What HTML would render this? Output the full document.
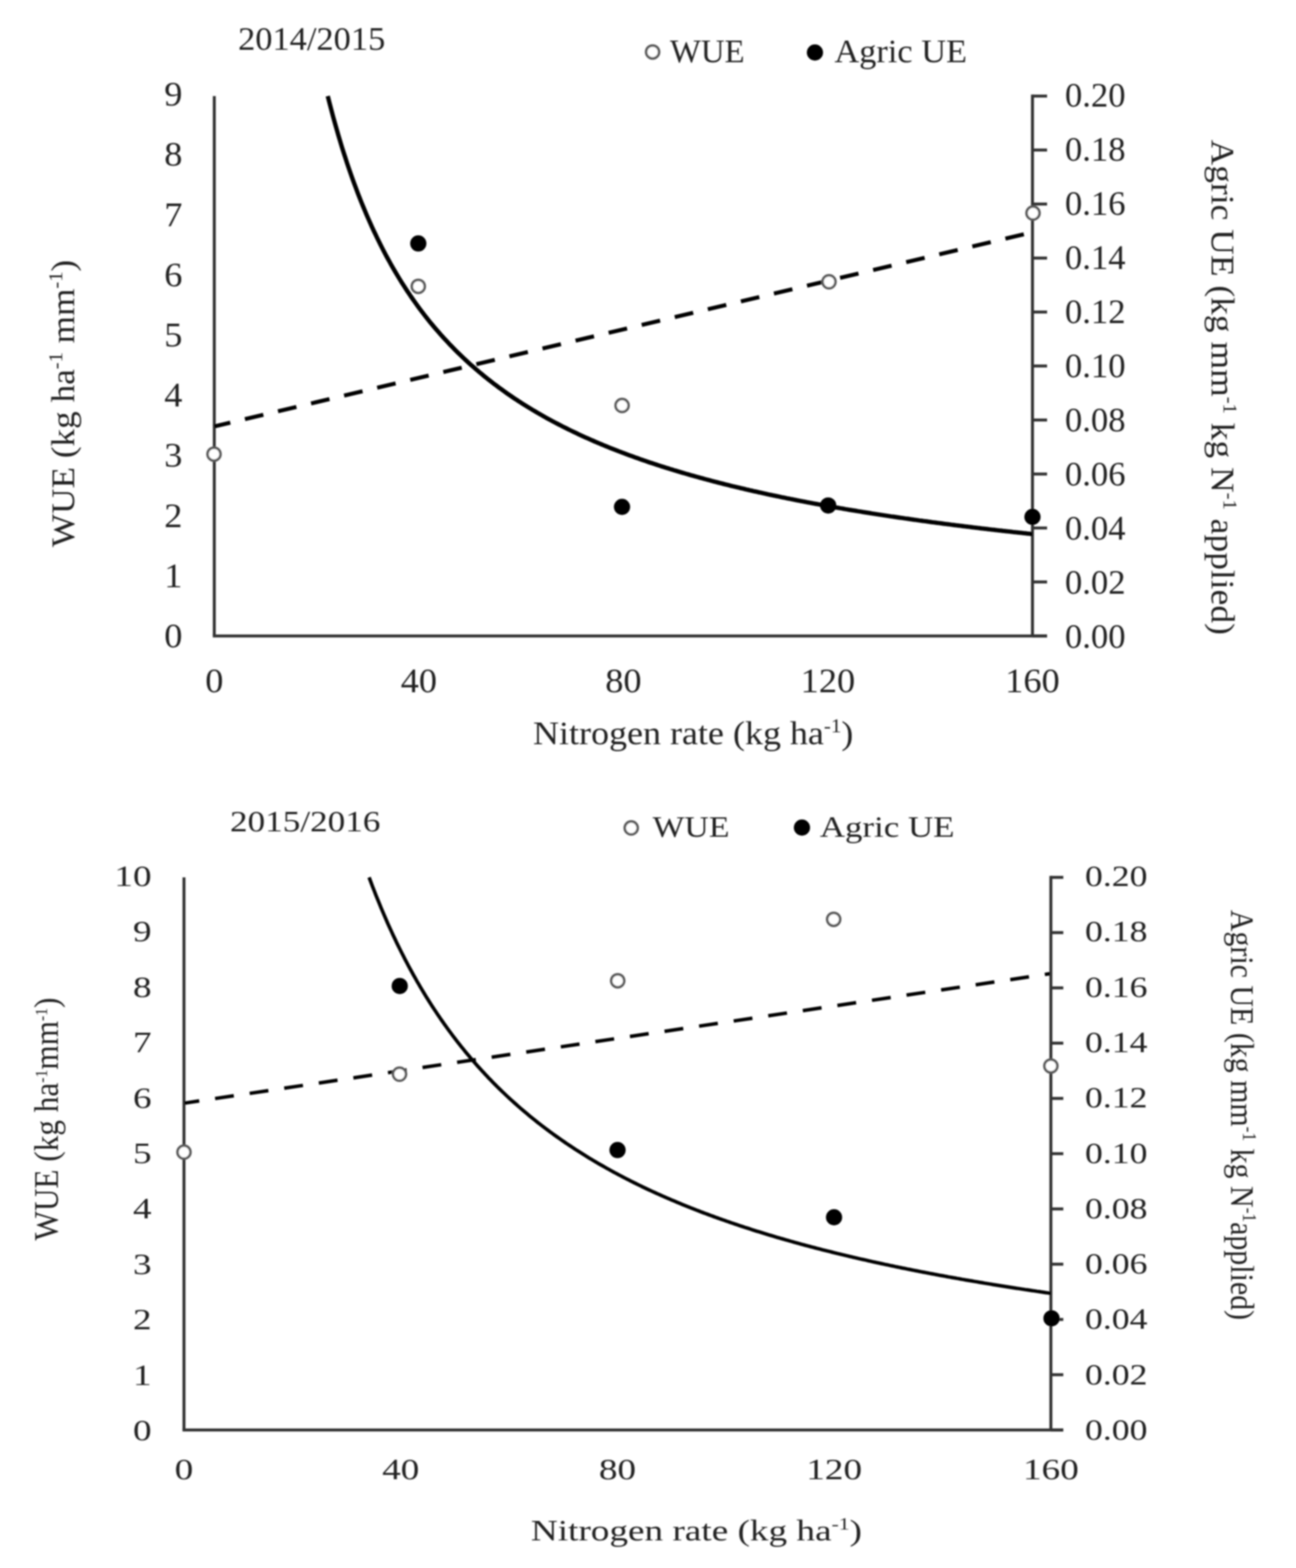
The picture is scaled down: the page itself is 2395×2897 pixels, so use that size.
<!DOCTYPE html>
<html><head><meta charset="utf-8"><title>WUE and Agric UE vs Nitrogen rate</title>
<style>
html,body{margin:0;padding:0;background:#fff;}
svg{display:block;}
text{font-family:'Liberation Serif', 'DejaVu Serif', serif;fill:#222;}
</style></head><body>
<svg width="2395" height="2897" viewBox="0 0 2395 2897">
<defs><filter id="soft" x="0" y="0" width="100%" height="100%" filterUnits="userSpaceOnUse"><feGaussianBlur stdDeviation="1.5"/></filter></defs>
<rect width="2395" height="2897" fill="#fff"/>
<g filter="url(#soft)">
<line x1="396" y1="177.5" x2="396" y2="1175" stroke="#333" stroke-width="5.5"/>
<line x1="393.25" y1="1175" x2="1935" y2="1175" stroke="#333" stroke-width="5.5"/>
<line x1="1908" y1="174.75" x2="1908" y2="1175" stroke="#333" stroke-width="5.5"/>
<line x1="1908" y1="1175.0" x2="1935" y2="1175.0" stroke="#333" stroke-width="5.5"/>
<line x1="1908" y1="1075.2" x2="1935" y2="1075.2" stroke="#333" stroke-width="5.5"/>
<line x1="1908" y1="975.5" x2="1935" y2="975.5" stroke="#333" stroke-width="5.5"/>
<line x1="1908" y1="875.8" x2="1935" y2="875.8" stroke="#333" stroke-width="5.5"/>
<line x1="1908" y1="776.0" x2="1935" y2="776.0" stroke="#333" stroke-width="5.5"/>
<line x1="1908" y1="676.2" x2="1935" y2="676.2" stroke="#333" stroke-width="5.5"/>
<line x1="1908" y1="576.5" x2="1935" y2="576.5" stroke="#333" stroke-width="5.5"/>
<line x1="1908" y1="476.8" x2="1935" y2="476.8" stroke="#333" stroke-width="5.5"/>
<line x1="1908" y1="377.0" x2="1935" y2="377.0" stroke="#333" stroke-width="5.5"/>
<line x1="1908" y1="277.2" x2="1935" y2="277.2" stroke="#333" stroke-width="5.5"/>
<line x1="1908" y1="177.5" x2="1935" y2="177.5" stroke="#333" stroke-width="5.5"/>
<text transform="translate(337,1196.0) scale(1.05,1)" text-anchor="end" font-size="64">0</text>
<text transform="translate(337,1084.8) scale(1.05,1)" text-anchor="end" font-size="64">1</text>
<text transform="translate(337,973.6) scale(1.05,1)" text-anchor="end" font-size="64">2</text>
<text transform="translate(337,862.4) scale(1.05,1)" text-anchor="end" font-size="64">3</text>
<text transform="translate(337,751.2) scale(1.05,1)" text-anchor="end" font-size="64">4</text>
<text transform="translate(337,640.0) scale(1.05,1)" text-anchor="end" font-size="64">5</text>
<text transform="translate(337,528.8) scale(1.05,1)" text-anchor="end" font-size="64">6</text>
<text transform="translate(337,417.6) scale(1.05,1)" text-anchor="end" font-size="64">7</text>
<text transform="translate(337,306.4) scale(1.05,1)" text-anchor="end" font-size="64">8</text>
<text transform="translate(337,195.2) scale(1.05,1)" text-anchor="end" font-size="64">9</text>
<text transform="translate(1968,1196.5) scale(1.0,1)" font-size="64">0.00</text>
<text transform="translate(1968,1096.5) scale(1.0,1)" font-size="64">0.02</text>
<text transform="translate(1968,996.5) scale(1.0,1)" font-size="64">0.04</text>
<text transform="translate(1968,896.5) scale(1.0,1)" font-size="64">0.06</text>
<text transform="translate(1968,796.5) scale(1.0,1)" font-size="64">0.08</text>
<text transform="translate(1968,696.5) scale(1.0,1)" font-size="64">0.10</text>
<text transform="translate(1968,596.5) scale(1.0,1)" font-size="64">0.12</text>
<text transform="translate(1968,496.5) scale(1.0,1)" font-size="64">0.14</text>
<text transform="translate(1968,396.5) scale(1.0,1)" font-size="64">0.16</text>
<text transform="translate(1968,296.5) scale(1.0,1)" font-size="64">0.18</text>
<text transform="translate(1968,196.5) scale(1.0,1)" font-size="64">0.20</text>
<text transform="translate(396.0,1279) scale(1.05,1)" text-anchor="middle" font-size="64">0</text>
<text transform="translate(774.0,1279) scale(1.05,1)" text-anchor="middle" font-size="64">40</text>
<text transform="translate(1152.0,1279) scale(1.05,1)" text-anchor="middle" font-size="64">80</text>
<text transform="translate(1530.0,1279) scale(1.05,1)" text-anchor="middle" font-size="64">120</text>
<text transform="translate(1908.0,1279) scale(1.05,1)" text-anchor="middle" font-size="64">160</text>
<line x1="396" y1="787.9" x2="1908" y2="429.0" stroke="#000" stroke-width="7.5" stroke-dasharray="35 27.8" stroke-dashoffset="4.6"/>
<path d="M605.7,177.5 L609.0,190.4 L612.3,203.0 L615.5,215.2 L618.8,227.1 L622.1,238.6 L625.3,249.9 L628.6,260.9 L631.8,271.6 L635.1,282.0 L638.4,292.1 L641.6,302.1 L644.9,311.7 L648.2,321.2 L651.4,330.4 L654.7,339.4 L658.0,348.2 L661.2,356.8 L664.5,365.2 L667.7,373.4 L671.0,381.4 L674.3,389.3 L677.5,397.0 L680.8,404.5 L684.1,411.9 L687.3,419.1 L690.6,426.2 L693.9,433.1 L697.1,439.9 L700.4,446.6 L703.6,453.1 L706.9,459.5 L710.2,465.8 L713.4,472.0 L716.7,478.0 L720.0,483.9 L723.2,489.8 L726.5,495.5 L729.8,501.1 L733.0,506.6 L736.3,512.0 L739.5,517.3 L742.8,522.6 L746.1,527.7 L749.3,532.7 L752.6,537.7 L755.9,542.6 L759.1,547.4 L762.4,552.1 L765.7,556.8 L768.9,561.3 L772.2,565.8 L775.5,570.3 L778.7,574.6 L782.0,578.9 L785.2,583.1 L788.5,587.3 L791.8,591.4 L795.0,595.4 L798.3,599.4 L801.6,603.3 L804.8,607.1 L808.1,610.9 L811.4,614.7 L814.6,618.4 L817.9,622.0 L821.1,625.6 L824.4,629.1 L827.7,632.6 L830.9,636.1 L834.2,639.4 L837.5,642.8 L840.7,646.1 L844.0,649.3 L847.3,652.6 L850.5,655.7 L853.8,658.9 L857.0,661.9 L860.3,665.0 L863.6,668.0 L866.8,671.0 L870.1,673.9 L873.4,676.8 L876.6,679.6 L879.9,682.5 L883.2,685.2 L886.4,688.0 L889.7,690.7 L892.9,693.4 L896.2,696.1 L899.5,698.7 L902.7,701.3 L906.0,703.8 L909.3,706.4 L912.5,708.9 L915.8,711.3 L919.1,713.8 L922.3,716.2 L925.6,718.6 L928.9,720.9 L932.1,723.3 L935.4,725.6 L938.6,727.9 L941.9,730.1 L945.2,732.4 L948.4,734.6 L951.7,736.8 L955.0,738.9 L958.2,741.1 L961.5,743.2 L964.8,745.3 L968.0,747.3 L971.3,749.4 L974.5,751.4 L977.8,753.4 L981.1,755.4 L984.3,757.4 L987.6,759.3 L990.9,761.2 L994.1,763.1 L997.4,765.0 L1000.7,766.9 L1003.9,768.7 L1007.2,770.6 L1010.4,772.4 L1013.7,774.2 L1017.0,776.0 L1020.2,777.7 L1023.5,779.5 L1026.8,781.2 L1030.0,782.9 L1033.3,784.6 L1036.6,786.3 L1039.8,788.0 L1043.1,789.6 L1046.3,791.2 L1049.6,792.9 L1052.9,794.5 L1056.1,796.0 L1059.4,797.6 L1062.7,799.2 L1065.9,800.7 L1069.2,802.3 L1072.5,803.8 L1075.7,805.3 L1079.0,806.8 L1082.3,808.3 L1085.5,809.7 L1088.8,811.2 L1092.0,812.6 L1095.3,814.0 L1098.6,815.5 L1101.8,816.9 L1105.1,818.3 L1108.4,819.6 L1111.6,821.0 L1114.9,822.4 L1118.2,823.7 L1121.4,825.0 L1124.7,826.4 L1127.9,827.7 L1131.2,829.0 L1134.5,830.3 L1137.7,831.5 L1141.0,832.8 L1144.3,834.1 L1147.5,835.3 L1150.8,836.6 L1154.1,837.8 L1157.3,839.0 L1160.6,840.2 L1163.8,841.4 L1167.1,842.6 L1170.4,843.8 L1173.6,845.0 L1176.9,846.1 L1180.2,847.3 L1183.4,848.5 L1186.7,849.6 L1190.0,850.7 L1193.2,851.8 L1196.5,853.0 L1199.7,854.1 L1203.0,855.2 L1206.3,856.2 L1209.5,857.3 L1212.8,858.4 L1216.1,859.5 L1219.3,860.5 L1222.6,861.6 L1225.9,862.6 L1229.1,863.6 L1232.4,864.7 L1235.7,865.7 L1238.9,866.7 L1242.2,867.7 L1245.4,868.7 L1248.7,869.7 L1252.0,870.7 L1255.2,871.6 L1258.5,872.6 L1261.8,873.6 L1265.0,874.5 L1268.3,875.5 L1271.6,876.4 L1274.8,877.4 L1278.1,878.3 L1281.3,879.2 L1284.6,880.1 L1287.9,881.0 L1291.1,881.9 L1294.4,882.8 L1297.7,883.7 L1300.9,884.6 L1304.2,885.5 L1307.5,886.4 L1310.7,887.2 L1314.0,888.1 L1317.2,889.0 L1320.5,889.8 L1323.8,890.7 L1327.0,891.5 L1330.3,892.3 L1333.6,893.2 L1336.8,894.0 L1340.1,894.8 L1343.4,895.6 L1346.6,896.4 L1349.9,897.3 L1353.1,898.1 L1356.4,898.8 L1359.7,899.6 L1362.9,900.4 L1366.2,901.2 L1369.5,902.0 L1372.7,902.7 L1376.0,903.5 L1379.3,904.3 L1382.5,905.0 L1385.8,905.8 L1389.1,906.5 L1392.3,907.3 L1395.6,908.0 L1398.8,908.7 L1402.1,909.5 L1405.4,910.2 L1408.6,910.9 L1411.9,911.6 L1415.2,912.3 L1418.4,913.1 L1421.7,913.8 L1425.0,914.5 L1428.2,915.2 L1431.5,915.8 L1434.7,916.5 L1438.0,917.2 L1441.3,917.9 L1444.5,918.6 L1447.8,919.2 L1451.1,919.9 L1454.3,920.6 L1457.6,921.2 L1460.9,921.9 L1464.1,922.5 L1467.4,923.2 L1470.6,923.8 L1473.9,924.5 L1477.2,925.1 L1480.4,925.8 L1483.7,926.4 L1487.0,927.0 L1490.2,927.6 L1493.5,928.3 L1496.8,928.9 L1500.0,929.5 L1503.3,930.1 L1506.5,930.7 L1509.8,931.3 L1513.1,931.9 L1516.3,932.5 L1519.6,933.1 L1522.9,933.7 L1526.1,934.3 L1529.4,934.9 L1532.7,935.5 L1535.9,936.0 L1539.2,936.6 L1542.5,937.2 L1545.7,937.8 L1549.0,938.3 L1552.2,938.9 L1555.5,939.4 L1558.8,940.0 L1562.0,940.6 L1565.3,941.1 L1568.6,941.7 L1571.8,942.2 L1575.1,942.8 L1578.4,943.3 L1581.6,943.8 L1584.9,944.4 L1588.1,944.9 L1591.4,945.4 L1594.7,946.0 L1597.9,946.5 L1601.2,947.0 L1604.5,947.5 L1607.7,948.0 L1611.0,948.6 L1614.3,949.1 L1617.5,949.6 L1620.8,950.1 L1624.0,950.6 L1627.3,951.1 L1630.6,951.6 L1633.8,952.1 L1637.1,952.6 L1640.4,953.1 L1643.6,953.6 L1646.9,954.1 L1650.2,954.5 L1653.4,955.0 L1656.7,955.5 L1659.9,956.0 L1663.2,956.5 L1666.5,956.9 L1669.7,957.4 L1673.0,957.9 L1676.3,958.3 L1679.5,958.8 L1682.8,959.3 L1686.1,959.7 L1689.3,960.2 L1692.6,960.6 L1695.9,961.1 L1699.1,961.6 L1702.4,962.0 L1705.6,962.5 L1708.9,962.9 L1712.2,963.3 L1715.4,963.8 L1718.7,964.2 L1722.0,964.7 L1725.2,965.1 L1728.5,965.5 L1731.8,966.0 L1735.0,966.4 L1738.3,966.8 L1741.5,967.2 L1744.8,967.7 L1748.1,968.1 L1751.3,968.5 L1754.6,968.9 L1757.9,969.4 L1761.1,969.8 L1764.4,970.2 L1767.7,970.6 L1770.9,971.0 L1774.2,971.4 L1777.4,971.8 L1780.7,972.2 L1784.0,972.6 L1787.2,973.0 L1790.5,973.4 L1793.8,973.8 L1797.0,974.2 L1800.3,974.6 L1803.6,975.0 L1806.8,975.4 L1810.1,975.8 L1813.3,976.2 L1816.6,976.6 L1819.9,976.9 L1823.1,977.3 L1826.4,977.7 L1829.7,978.1 L1832.9,978.5 L1836.2,978.8 L1839.5,979.2 L1842.7,979.6 L1846.0,980.0 L1849.3,980.3 L1852.5,980.7 L1855.8,981.1 L1859.0,981.4 L1862.3,981.8 L1865.6,982.1 L1868.8,982.5 L1872.1,982.9 L1875.4,983.2 L1878.6,983.6 L1881.9,983.9 L1885.2,984.3 L1888.4,984.6 L1891.7,985.0 L1894.9,985.3 L1898.2,985.7 L1901.5,986.0 L1904.7,986.4 L1908.0,986.7" fill="none" stroke="#000" stroke-width="8" stroke-linejoin="round"/>
<circle cx="395.5" cy="839" r="12" fill="#fff" stroke="#5a5a5a" stroke-width="4.75"/>
<circle cx="773" cy="529" r="12" fill="#fff" stroke="#5a5a5a" stroke-width="4.75"/>
<circle cx="1149.6" cy="749.2" r="12" fill="#fff" stroke="#5a5a5a" stroke-width="4.75"/>
<circle cx="1532" cy="520.6" r="12" fill="#fff" stroke="#5a5a5a" stroke-width="4.75"/>
<circle cx="1909" cy="393.7" r="12" fill="#fff" stroke="#5a5a5a" stroke-width="4.75"/>
<circle cx="773" cy="449.8" r="15" fill="#000"/>
<circle cx="1149.5" cy="936.5" r="15" fill="#000"/>
<circle cx="1530.5" cy="933.9" r="15" fill="#000"/>
<circle cx="1908" cy="955" r="15" fill="#000"/>
<line x1="340" y1="1621" x2="340" y2="2642" stroke="#333" stroke-width="5.5"/>
<line x1="337.25" y1="2642" x2="1965" y2="2642" stroke="#333" stroke-width="5.5"/>
<line x1="1942" y1="1618.25" x2="1942" y2="2642" stroke="#333" stroke-width="5.5"/>
<line x1="1942" y1="2642.0" x2="1965" y2="2642.0" stroke="#333" stroke-width="5.5"/>
<line x1="1942" y1="2539.9" x2="1965" y2="2539.9" stroke="#333" stroke-width="5.5"/>
<line x1="1942" y1="2437.8" x2="1965" y2="2437.8" stroke="#333" stroke-width="5.5"/>
<line x1="1942" y1="2335.7" x2="1965" y2="2335.7" stroke="#333" stroke-width="5.5"/>
<line x1="1942" y1="2233.6" x2="1965" y2="2233.6" stroke="#333" stroke-width="5.5"/>
<line x1="1942" y1="2131.5" x2="1965" y2="2131.5" stroke="#333" stroke-width="5.5"/>
<line x1="1942" y1="2029.4" x2="1965" y2="2029.4" stroke="#333" stroke-width="5.5"/>
<line x1="1942" y1="1927.3" x2="1965" y2="1927.3" stroke="#333" stroke-width="5.5"/>
<line x1="1942" y1="1825.2" x2="1965" y2="1825.2" stroke="#333" stroke-width="5.5"/>
<line x1="1942" y1="1723.1" x2="1965" y2="1723.1" stroke="#333" stroke-width="5.5"/>
<line x1="1942" y1="1621.0" x2="1965" y2="1621.0" stroke="#333" stroke-width="5.5"/>
<text transform="translate(280,2661.0) scale(1.25,1)" text-anchor="end" font-size="55">0</text>
<text transform="translate(280,2558.6) scale(1.25,1)" text-anchor="end" font-size="55">1</text>
<text transform="translate(280,2456.2) scale(1.25,1)" text-anchor="end" font-size="55">2</text>
<text transform="translate(280,2353.8) scale(1.25,1)" text-anchor="end" font-size="55">3</text>
<text transform="translate(280,2251.4) scale(1.25,1)" text-anchor="end" font-size="55">4</text>
<text transform="translate(280,2149.0) scale(1.25,1)" text-anchor="end" font-size="55">5</text>
<text transform="translate(280,2046.6) scale(1.25,1)" text-anchor="end" font-size="55">6</text>
<text transform="translate(280,1944.2) scale(1.25,1)" text-anchor="end" font-size="55">7</text>
<text transform="translate(280,1841.8) scale(1.25,1)" text-anchor="end" font-size="55">8</text>
<text transform="translate(280,1739.4) scale(1.25,1)" text-anchor="end" font-size="55">9</text>
<text transform="translate(280,1637.0) scale(1.25,1)" text-anchor="end" font-size="55">10</text>
<text transform="translate(2005,2660.0) scale(1.2,1)" font-size="55">0.00</text>
<text transform="translate(2005,2557.7) scale(1.2,1)" font-size="55">0.02</text>
<text transform="translate(2005,2455.4) scale(1.2,1)" font-size="55">0.04</text>
<text transform="translate(2005,2353.1) scale(1.2,1)" font-size="55">0.06</text>
<text transform="translate(2005,2250.8) scale(1.2,1)" font-size="55">0.08</text>
<text transform="translate(2005,2148.5) scale(1.2,1)" font-size="55">0.10</text>
<text transform="translate(2005,2046.2) scale(1.2,1)" font-size="55">0.12</text>
<text transform="translate(2005,1943.9) scale(1.2,1)" font-size="55">0.14</text>
<text transform="translate(2005,1841.6) scale(1.2,1)" font-size="55">0.16</text>
<text transform="translate(2005,1739.3) scale(1.2,1)" font-size="55">0.18</text>
<text transform="translate(2005,1637.0) scale(1.2,1)" font-size="55">0.20</text>
<text transform="translate(340.0,2733) scale(1.25,1)" text-anchor="middle" font-size="55">0</text>
<text transform="translate(740.5,2733) scale(1.25,1)" text-anchor="middle" font-size="55">40</text>
<text transform="translate(1141.0,2733) scale(1.25,1)" text-anchor="middle" font-size="55">80</text>
<text transform="translate(1541.5,2733) scale(1.25,1)" text-anchor="middle" font-size="55">120</text>
<text transform="translate(1942.0,2733) scale(1.25,1)" text-anchor="middle" font-size="55">160</text>
<line x1="341" y1="2038.1" x2="1940" y2="1799.0" stroke="#000" stroke-width="6.5" stroke-dasharray="35 29.6" stroke-dashoffset="7.5"/>
<path d="M682.1,1621.0 L685.3,1629.5 L688.4,1637.8 L691.6,1645.9 L694.7,1654.0 L697.9,1661.8 L701.1,1669.6 L704.2,1677.2 L707.4,1684.7 L710.5,1692.1 L713.7,1699.4 L716.8,1706.6 L720.0,1713.6 L723.2,1720.5 L726.3,1727.3 L729.5,1734.0 L732.6,1740.7 L735.8,1747.2 L739.0,1753.6 L742.1,1759.9 L745.3,1766.1 L748.4,1772.2 L751.6,1778.3 L754.7,1784.2 L757.9,1790.1 L761.1,1795.9 L764.2,1801.6 L767.4,1807.2 L770.5,1812.8 L773.7,1818.2 L776.8,1823.6 L780.0,1828.9 L783.2,1834.2 L786.3,1839.4 L789.5,1844.5 L792.6,1849.5 L795.8,1854.5 L798.9,1859.4 L802.1,1864.2 L805.3,1869.0 L808.4,1873.7 L811.6,1878.4 L814.7,1883.0 L817.9,1887.5 L821.0,1892.0 L824.2,1896.4 L827.4,1900.8 L830.5,1905.1 L833.7,1909.4 L836.8,1913.6 L840.0,1917.8 L843.2,1921.9 L846.3,1925.9 L849.5,1930.0 L852.6,1933.9 L855.8,1937.8 L858.9,1941.7 L862.1,1945.6 L865.3,1949.3 L868.4,1953.1 L871.6,1956.8 L874.7,1960.5 L877.9,1964.1 L881.0,1967.7 L884.2,1971.2 L887.4,1974.7 L890.5,1978.2 L893.7,1981.6 L896.8,1985.0 L900.0,1988.3 L903.1,1991.7 L906.3,1994.9 L909.5,1998.2 L912.6,2001.4 L915.8,2004.6 L918.9,2007.7 L922.1,2010.9 L925.2,2013.9 L928.4,2017.0 L931.6,2020.0 L934.7,2023.0 L937.9,2026.0 L941.0,2028.9 L944.2,2031.8 L947.4,2034.7 L950.5,2037.5 L953.7,2040.3 L956.8,2043.1 L960.0,2045.9 L963.1,2048.6 L966.3,2051.3 L969.5,2054.0 L972.6,2056.6 L975.8,2059.3 L978.9,2061.9 L982.1,2064.5 L985.2,2067.0 L988.4,2069.6 L991.6,2072.1 L994.7,2074.6 L997.9,2077.0 L1001.0,2079.5 L1004.2,2081.9 L1007.3,2084.3 L1010.5,2086.7 L1013.7,2089.0 L1016.8,2091.4 L1020.0,2093.7 L1023.1,2096.0 L1026.3,2098.2 L1029.5,2100.5 L1032.6,2102.7 L1035.8,2104.9 L1038.9,2107.1 L1042.1,2109.3 L1045.2,2111.5 L1048.4,2113.6 L1051.6,2115.7 L1054.7,2117.8 L1057.9,2119.9 L1061.0,2122.0 L1064.2,2124.1 L1067.3,2126.1 L1070.5,2128.1 L1073.7,2130.1 L1076.8,2132.1 L1080.0,2134.1 L1083.1,2136.0 L1086.3,2138.0 L1089.4,2139.9 L1092.6,2141.8 L1095.8,2143.7 L1098.9,2145.6 L1102.1,2147.4 L1105.2,2149.3 L1108.4,2151.1 L1111.5,2152.9 L1114.7,2154.7 L1117.9,2156.5 L1121.0,2158.3 L1124.2,2160.0 L1127.3,2161.8 L1130.5,2163.5 L1133.7,2165.3 L1136.8,2167.0 L1140.0,2168.7 L1143.1,2170.3 L1146.3,2172.0 L1149.4,2173.7 L1152.6,2175.3 L1155.8,2177.0 L1158.9,2178.6 L1162.1,2180.2 L1165.2,2181.8 L1168.4,2183.4 L1171.5,2185.0 L1174.7,2186.5 L1177.9,2188.1 L1181.0,2189.6 L1184.2,2191.2 L1187.3,2192.7 L1190.5,2194.2 L1193.6,2195.7 L1196.8,2197.2 L1200.0,2198.7 L1203.1,2200.1 L1206.3,2201.6 L1209.4,2203.0 L1212.6,2204.5 L1215.7,2205.9 L1218.9,2207.3 L1222.1,2208.7 L1225.2,2210.1 L1228.4,2211.5 L1231.5,2212.9 L1234.7,2214.3 L1237.9,2215.6 L1241.0,2217.0 L1244.2,2218.3 L1247.3,2219.6 L1250.5,2221.0 L1253.6,2222.3 L1256.8,2223.6 L1260.0,2224.9 L1263.1,2226.2 L1266.3,2227.5 L1269.4,2228.7 L1272.6,2230.0 L1275.7,2231.3 L1278.9,2232.5 L1282.1,2233.8 L1285.2,2235.0 L1288.4,2236.2 L1291.5,2237.4 L1294.7,2238.7 L1297.8,2239.9 L1301.0,2241.1 L1304.2,2242.2 L1307.3,2243.4 L1310.5,2244.6 L1313.6,2245.8 L1316.8,2246.9 L1320.0,2248.1 L1323.1,2249.2 L1326.3,2250.4 L1329.4,2251.5 L1332.6,2252.6 L1335.7,2253.7 L1338.9,2254.8 L1342.1,2256.0 L1345.2,2257.0 L1348.4,2258.1 L1351.5,2259.2 L1354.7,2260.3 L1357.8,2261.4 L1361.0,2262.4 L1364.2,2263.5 L1367.3,2264.6 L1370.5,2265.6 L1373.6,2266.6 L1376.8,2267.7 L1379.9,2268.7 L1383.1,2269.7 L1386.3,2270.7 L1389.4,2271.8 L1392.6,2272.8 L1395.7,2273.8 L1398.9,2274.8 L1402.0,2275.7 L1405.2,2276.7 L1408.4,2277.7 L1411.5,2278.7 L1414.7,2279.6 L1417.8,2280.6 L1421.0,2281.6 L1424.2,2282.5 L1427.3,2283.4 L1430.5,2284.4 L1433.6,2285.3 L1436.8,2286.3 L1439.9,2287.2 L1443.1,2288.1 L1446.3,2289.0 L1449.4,2289.9 L1452.6,2290.8 L1455.7,2291.7 L1458.9,2292.6 L1462.0,2293.5 L1465.2,2294.4 L1468.4,2295.3 L1471.5,2296.2 L1474.7,2297.0 L1477.8,2297.9 L1481.0,2298.8 L1484.1,2299.6 L1487.3,2300.5 L1490.5,2301.3 L1493.6,2302.2 L1496.8,2303.0 L1499.9,2303.8 L1503.1,2304.7 L1506.2,2305.5 L1509.4,2306.3 L1512.6,2307.1 L1515.7,2307.9 L1518.9,2308.8 L1522.0,2309.6 L1525.2,2310.4 L1528.4,2311.2 L1531.5,2311.9 L1534.7,2312.7 L1537.8,2313.5 L1541.0,2314.3 L1544.1,2315.1 L1547.3,2315.9 L1550.5,2316.6 L1553.6,2317.4 L1556.8,2318.2 L1559.9,2318.9 L1563.1,2319.7 L1566.2,2320.4 L1569.4,2321.2 L1572.6,2321.9 L1575.7,2322.7 L1578.9,2323.4 L1582.0,2324.1 L1585.2,2324.9 L1588.3,2325.6 L1591.5,2326.3 L1594.7,2327.0 L1597.8,2327.7 L1601.0,2328.4 L1604.1,2329.2 L1607.3,2329.9 L1610.5,2330.6 L1613.6,2331.3 L1616.8,2332.0 L1619.9,2332.7 L1623.1,2333.3 L1626.2,2334.0 L1629.4,2334.7 L1632.6,2335.4 L1635.7,2336.1 L1638.9,2336.7 L1642.0,2337.4 L1645.2,2338.1 L1648.3,2338.7 L1651.5,2339.4 L1654.7,2340.1 L1657.8,2340.7 L1661.0,2341.4 L1664.1,2342.0 L1667.3,2342.7 L1670.4,2343.3 L1673.6,2343.9 L1676.8,2344.6 L1679.9,2345.2 L1683.1,2345.8 L1686.2,2346.5 L1689.4,2347.1 L1692.5,2347.7 L1695.7,2348.3 L1698.9,2349.0 L1702.0,2349.6 L1705.2,2350.2 L1708.3,2350.8 L1711.5,2351.4 L1714.7,2352.0 L1717.8,2352.6 L1721.0,2353.2 L1724.1,2353.8 L1727.3,2354.4 L1730.4,2355.0 L1733.6,2355.6 L1736.8,2356.2 L1739.9,2356.7 L1743.1,2357.3 L1746.2,2357.9 L1749.4,2358.5 L1752.5,2359.1 L1755.7,2359.6 L1758.9,2360.2 L1762.0,2360.8 L1765.2,2361.3 L1768.3,2361.9 L1771.5,2362.4 L1774.6,2363.0 L1777.8,2363.6 L1781.0,2364.1 L1784.1,2364.7 L1787.3,2365.2 L1790.4,2365.8 L1793.6,2366.3 L1796.7,2366.8 L1799.9,2367.4 L1803.1,2367.9 L1806.2,2368.4 L1809.4,2369.0 L1812.5,2369.5 L1815.7,2370.0 L1818.9,2370.6 L1822.0,2371.1 L1825.2,2371.6 L1828.3,2372.1 L1831.5,2372.6 L1834.6,2373.2 L1837.8,2373.7 L1841.0,2374.2 L1844.1,2374.7 L1847.3,2375.2 L1850.4,2375.7 L1853.6,2376.2 L1856.7,2376.7 L1859.9,2377.2 L1863.1,2377.7 L1866.2,2378.2 L1869.4,2378.7 L1872.5,2379.2 L1875.7,2379.7 L1878.8,2380.2 L1882.0,2380.6 L1885.2,2381.1 L1888.3,2381.6 L1891.5,2382.1 L1894.6,2382.6 L1897.8,2383.0 L1901.0,2383.5 L1904.1,2384.0 L1907.3,2384.5 L1910.4,2384.9 L1913.6,2385.4 L1916.7,2385.9 L1919.9,2386.3 L1923.1,2386.8 L1926.2,2387.2 L1929.4,2387.7 L1932.5,2388.2 L1935.7,2388.6 L1938.8,2389.1 L1942.0,2389.5" fill="none" stroke="#000" stroke-width="6.5" stroke-linejoin="round"/>
<circle cx="340" cy="2128.7" r="12" fill="#fff" stroke="#5a5a5a" stroke-width="4.75"/>
<circle cx="738.3" cy="1984.6" r="12" fill="#fff" stroke="#5a5a5a" stroke-width="4.75"/>
<circle cx="1141.5" cy="1812" r="12" fill="#fff" stroke="#5a5a5a" stroke-width="4.75"/>
<circle cx="1540.6" cy="1698.5" r="12" fill="#fff" stroke="#5a5a5a" stroke-width="4.75"/>
<circle cx="1942" cy="1969.5" r="12" fill="#fff" stroke="#5a5a5a" stroke-width="4.75"/>
<circle cx="738.7" cy="1821.7" r="15" fill="#000"/>
<circle cx="1141.2" cy="2124.8" r="15" fill="#000"/>
<circle cx="1541.3" cy="2249" r="15" fill="#000"/>
<circle cx="1943.2" cy="2435.7" r="15" fill="#000"/>
<text x="440" y="92" font-size="62" text-anchor="start" textLength="272" lengthAdjust="spacingAndGlyphs">2014/2015</text>
<circle cx="1206" cy="96" r="12" fill="#fff" stroke="#5a5a5a" stroke-width="4.75"/>
<text x="1238" y="115" font-size="62" text-anchor="start" textLength="138" lengthAdjust="spacingAndGlyphs">WUE</text>
<circle cx="1506" cy="97" r="15" fill="#000"/>
<text x="1542" y="115" font-size="62" text-anchor="start" textLength="245" lengthAdjust="spacingAndGlyphs">Agric UE</text>
<text x="985" y="1375" font-size="62" text-anchor="start" textLength="592" lengthAdjust="spacingAndGlyphs">Nitrogen rate (kg ha<tspan dy="-22" font-size="36">-1</tspan><tspan dy="22">)</tspan></text>
<text x="137" y="1011" font-size="62" text-anchor="start" textLength="531" lengthAdjust="spacingAndGlyphs" transform="rotate(-90 137 1011)">WUE (kg ha<tspan dy="-22" font-size="36">-1</tspan><tspan dy="22"> mm</tspan><tspan dy="-22" font-size="36">-1</tspan><tspan dy="22">)</tspan></text>
<text x="2239" y="258" font-size="62" text-anchor="start" textLength="915" lengthAdjust="spacingAndGlyphs" transform="rotate(90 2239 258)">Agric UE (kg mm<tspan dy="-22" font-size="36">-1</tspan><tspan dy="22"> kg N</tspan><tspan dy="-22" font-size="36">-1</tspan><tspan dy="22"> applied)</tspan></text>
<text x="425" y="1536" font-size="55" text-anchor="start" textLength="278" lengthAdjust="spacingAndGlyphs">2015/2016</text>
<circle cx="1166.5" cy="1529.7" r="12" fill="#fff" stroke="#5a5a5a" stroke-width="4.75"/>
<text x="1206" y="1546" font-size="55" text-anchor="start" textLength="142" lengthAdjust="spacingAndGlyphs">WUE</text>
<circle cx="1482" cy="1529" r="15" fill="#000"/>
<text x="1515" y="1546" font-size="55" text-anchor="start" textLength="249" lengthAdjust="spacingAndGlyphs">Agric UE</text>
<text x="981" y="2846" font-size="55" text-anchor="start" textLength="612" lengthAdjust="spacingAndGlyphs">Nitrogen rate (kg ha<tspan dy="-20" font-size="32">-1</tspan><tspan dy="20">)</tspan></text>
<text x="107" y="2292" font-size="63.5" text-anchor="start" textLength="449" lengthAdjust="spacingAndGlyphs" transform="rotate(-90 107 2292)">WUE (kg ha<tspan dy="-20" font-size="32">-1</tspan><tspan dy="20">mm</tspan><tspan dy="-20" font-size="32">-1</tspan><tspan dy="20">)</tspan></text>
<text x="2275" y="1681" font-size="62" text-anchor="start" textLength="758" lengthAdjust="spacingAndGlyphs" transform="rotate(90 2275 1681)">Agric UE (kg mm<tspan dy="-22" font-size="36">-1</tspan><tspan dy="22"> kg N</tspan><tspan dy="-22" font-size="36">-1</tspan><tspan dy="22">applied)</tspan></text>
</g>
</svg>
</body></html>
